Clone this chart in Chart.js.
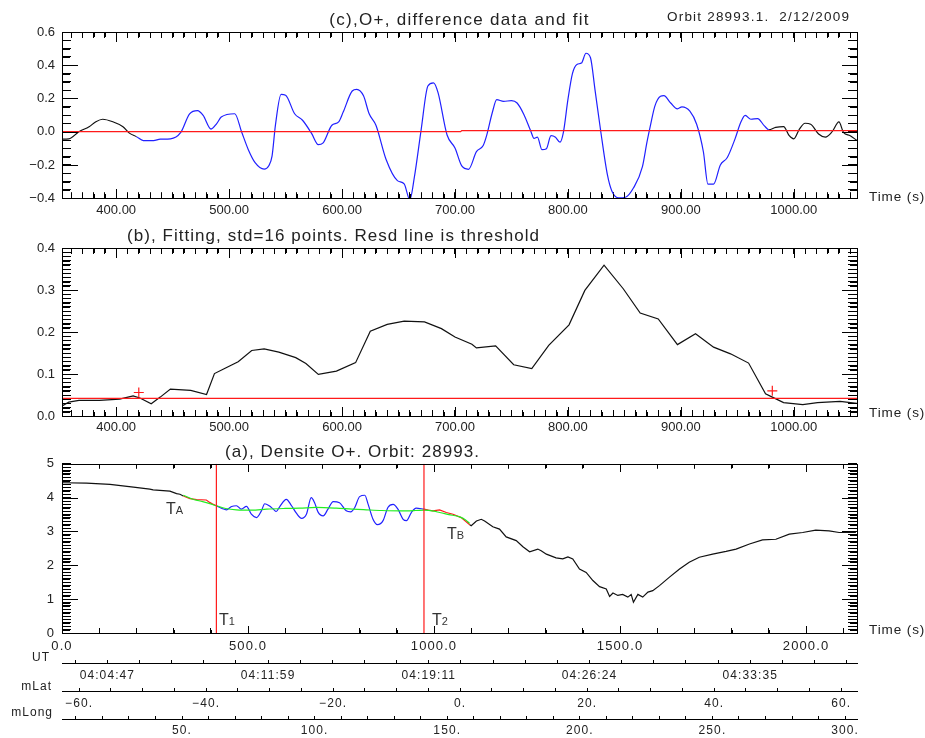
<!DOCTYPE html>
<html>
<head>
<meta charset="utf-8">
<script src="https://cdn.jsdelivr.net/npm/chart.js@4.4.1/dist/chart.umd.min.js"></script>
<style>
  body { margin: 0; background: #fff; width: 925px; height: 738px; position: relative; overflow: hidden;
         font-family: "Liberation Sans", Arial, sans-serif; color: #222; }
  canvas { position: absolute; left: 0; }
  .t { position: absolute; white-space: nowrap; line-height: 1; }
  .title { font-size: 17px; letter-spacing: 1.05px; }
  .small { font-size: 13.5px; letter-spacing: 0.9px; }
  .lab { font-size: 12px; letter-spacing: 1px; text-align: right; }
  .mark { font-size: 16px; color: #333; }
  .mark span { font-size: 11px; }
</style>
</head>
<body>
<canvas id="chartC" width="925" height="222" style="top:0"></canvas>
<canvas id="chartB" width="925" height="218" style="top:222px"></canvas>
<canvas id="chartA" width="925" height="298" style="top:440px"></canvas>

<div class="t title" style="left:0;width:919px;text-align:center;top:11px;letter-spacing:1.3px">(c),O+, difference data and fit</div>
<div class="t small" style="left:667px;top:10px;letter-spacing:1.2px">Orbit 28993.1.&nbsp; 2/12/2009</div>
<div class="t small" style="left:869px;top:190px">Time (s)</div>

<div class="t title" style="left:127px;top:227px">(b), Fitting, std=16 points. Resd line is threshold</div>
<div class="t small" style="left:869px;top:406px">Time (s)</div>

<div class="t title" style="left:225px;top:443px">(a), Densite O+. Orbit: 28993.</div>
<div class="t small" style="left:869px;top:623px">Time (s)</div>

<div class="t mark" style="left:166px;top:501px">T<span>A</span></div>
<div class="t mark" style="left:447px;top:526px">T<span>B</span></div>
<div class="t mark" style="left:219px;top:612px">T<span>1</span></div>
<div class="t mark" style="left:432px;top:612px">T<span>2</span></div>

<div class="t lab" style="right:875px;top:651px">UT</div>
<div class="t lab" style="right:873px;top:680px">mLat</div>
<div class="t lab" style="right:872px;top:706px">mLong</div>

<script>
// (c) difference data and fit
const diffTime = [352, 358, 367, 376, 382, 388, 397, 406, 412, 418, 424, 433, 439, 448, 457, 465, 472, 477, 484, 489,
  493, 505, 511, 517, 523, 531, 535, 538, 541, 546, 550, 558, 565, 573, 579, 583, 591, 597, 601, 609,
  613, 619, 624, 630, 639, 649, 655, 660, 664, 670, 676, 681, 685, 693, 700, 706, 712, 719, 725, 728,
  733, 737, 743, 750, 755, 761, 767, 770, 773, 777, 781, 785, 789, 793, 796, 800, 804, 808, 812, 816,
  820, 824, 829, 835, 839, 845, 851, 858, 866, 870, 873, 877, 882, 885, 891, 897, 901, 908, 914, 920,
  924, 929, 935, 941, 948, 953, 957, 962, 968, 974, 978, 984, 991, 996, 1000, 1005, 1010, 1015, 1022, 1028,
  1034, 1040, 1044, 1050, 1056];
const diffVal = [-0.045, -0.043, 0.0, 0.03, 0.06, 0.075, 0.06, 0.03, -0.01, -0.03, -0.053, -0.053, -0.045, -0.043, -0.006, 0.108, 0.127, 0.098, 0.016, 0.049,
  0.088, 0.108, 0.0, -0.108, -0.186, -0.225, -0.206, -0.147, 0.04, 0.225, 0.22, 0.108, 0.069, -0.01, -0.078, -0.069, 0.039, 0.059, 0.118, 0.245,
  0.255, 0.216, 0.108, 0.039, -0.167, -0.294, -0.314, -0.41, -0.275, 0.01, 0.275, 0.294, 0.235, -0.02, -0.098, -0.206, -0.226, -0.12, -0.083, -0.024,
  0.114, 0.193, 0.183, 0.187, 0.173, 0.104, 0.006, -0.04, -0.033, -0.108, -0.102, -0.024, -0.033, -0.063, -0.004, 0.193, 0.35, 0.405, 0.413, 0.472,
  0.445, 0.252, 0.006, -0.26, -0.358, -0.398, -0.394, -0.339, -0.21, -0.063, 0.035, 0.154, 0.213, 0.217, 0.173, 0.138, 0.15, 0.124, 0.045, -0.122,
  -0.315, -0.315, -0.2, -0.157, -0.043, 0.055, 0.098, 0.075, 0.079, 0.035, 0.012, 0.026, 0.031, -0.024, -0.043, 0.016, 0.051, 0.045, -0.014, -0.033,
  0.0, 0.059, -0.004, -0.024, -0.053];
const diffWindow = [416, 977];
const fitCTime = [352, 705, 706, 1056];
const fitCVal = [0, 0, 0.007, 0.007];

// (b) fitting std
const stdTime = [352, 358, 367, 385, 403, 415, 421, 431, 439, 448, 466, 480, 487, 496, 508, 520, 531, 544, 559, 568,
  579, 595, 612, 625, 640, 655, 673, 688, 700, 715, 719, 736, 752, 768, 783, 801, 815, 832, 849, 864,
  880, 897, 913, 929, 944, 960, 975, 981, 991, 1008, 1021, 1041, 1056];
const stdVal = [0.024, 0.033, 0.037, 0.037, 0.040, 0.048, 0.043, 0.029, 0.045, 0.064, 0.061, 0.051, 0.101, 0.113, 0.129, 0.156, 0.160, 0.152, 0.139, 0.125,
  0.099, 0.107, 0.127, 0.202, 0.218, 0.226, 0.224, 0.208, 0.188, 0.171, 0.162, 0.167, 0.122, 0.113, 0.168, 0.217, 0.299, 0.359, 0.303, 0.245,
  0.231, 0.170, 0.196, 0.164, 0.148, 0.126, 0.053, 0.045, 0.032, 0.027, 0.032, 0.035, 0.030];
const thresholdTime = [352, 1056];
const thresholdVal = [0.042, 0.042];
const crossTime = [420, 981];
const crossVal = [0.056, 0.060];

// (a) density O+
const densTime = [0, 66, 129, 192, 236, 245, 290, 308, 317, 326, 344, 362, 388, 397, 407, 415,
  430, 442, 456, 469, 482, 496, 509, 523, 536, 545, 557, 568, 576, 585, 603, 617, 630, 644, 657, 670,
  679, 688, 702, 715, 729, 746, 764, 776, 787, 800, 814, 823, 836, 848, 863, 876, 890, 903, 917, 926,
  939, 952, 973, 985, 997, 1015, 1033, 1051, 1073, 1096, 1100, 1114, 1127, 1136, 1158, 1176, 1194, 1221,
  1239, 1257, 1279, 1288, 1302, 1328, 1346, 1360, 1373, 1391, 1409, 1427, 1445, 1463, 1472, 1481, 1494, 1507,
  1521, 1530, 1536, 1548, 1561, 1575, 1588, 1606, 1633, 1660, 1686, 1713, 1749, 1785, 1812, 1848, 1883, 1919,
  1955, 1991, 2026, 2062, 2089, 2134];
const densVal = [4.44, 4.43, 4.39, 4.31, 4.25, 4.23, 4.19, 4.12, 4.10, 4.05, 3.97, 3.94, 3.93, 3.86, 3.80, 3.76,
  3.68, 3.64, 3.74, 3.76, 3.66, 3.74, 3.51, 3.41, 3.61, 3.82, 3.76, 3.66, 3.59, 3.73, 3.95, 3.76, 3.54, 3.39, 3.51, 4.00,
  3.85, 3.58, 3.46, 3.66, 3.88, 3.85, 3.61, 3.58, 3.71, 4.03, 4.07, 3.80, 3.36, 3.20, 3.32, 3.71, 3.80, 3.66, 3.36, 3.32,
  3.56, 3.69, 3.66, 3.63, 3.61, 3.64, 3.56, 3.51, 3.41, 3.20, 3.17, 3.31, 3.36, 3.31, 3.14, 3.07, 2.84, 2.73,
  2.55, 2.40, 2.48, 2.43, 2.33, 2.22, 2.19, 2.25, 2.19, 1.89, 1.79, 1.55, 1.37, 1.30, 1.08, 1.18, 1.11, 1.14,
  1.06, 1.14, 0.91, 1.14, 1.06, 1.21, 1.25, 1.40, 1.65, 1.89, 2.09, 2.24, 2.33, 2.41, 2.48, 2.63, 2.75, 2.77,
  2.92, 2.97, 3.04, 3.02, 2.97, 2.97];
const fitATime = [326, 350, 371, 395, 415, 440, 469, 510, 550, 600, 639, 684, 737, 780, 818, 860, 908, 950, 973, 1000, 1015, 1040, 1069, 1085, 1096];
const fitAVal = [4.07, 3.96, 3.90, 3.83, 3.76, 3.68, 3.64, 3.63, 3.66, 3.68, 3.69, 3.71, 3.69, 3.66, 3.64, 3.62, 3.61, 3.62, 3.63, 3.60, 3.56, 3.50, 3.43, 3.34, 3.24];
const TA = 326, T1 = 415, T2 = 973, TB = 1096;

// bottom axes
const utTickSec = [122, 554, 986, 1418, 1850];
const utLabels = ['04:04:47', '04:11:59', '04:19:11', '04:26:24', '04:33:35'];
const mLatRange = [-62.7, 62.5];
const mLongRange = [4.75, 304.5];

const BLUE = '#2020ff', RED = '#ff1a1a', GREEN = '#22ee22', BLACK = '#111';
Chart.defaults.font.family = '"Liberation Sans", Arial, sans-serif';
Chart.defaults.color = '#222';

function pts(xs, ys) { return xs.map((x, i) => ({ x, y: ys[i] })); }
function stepTicks(from, to, step) {
  const n = Math.round((to - from) / step);
  const out = [];
  for (let i = 0; i <= n; i++) out.push({ value: Math.round((from + i * step) * 1e6) / 1e6 });
  return out;
}
function isMult(v, m) { return Math.abs(v / m - Math.round(v / m)) < 1e-6; }
function minus(s) { return s.replace('-', '\u2212'); }
function utTicks(max) {
  const step = (utTickSec[1] - utTickSec[0]) / 5;
  const out = [];
  for (let k = -Math.floor(utTickSec[0] / step); ; k++) {
    const v = (k % 5 === 0 && utTickSec[k / 5] !== undefined) ? utTickSec[k / 5] : utTickSec[0] + k * step;
    if (v > max) break;
    out.push({ value: v });
  }
  return out;
}

// frame round the plot area plus longer inward marks at labelled ticks
function idlAxes(len) {
  return {
    id: 'idlAxes',
    afterDraw(chart) {
      const { ctx, chartArea: a } = chart;
      ctx.save();
      ctx.fillStyle = '#000';
      const l = Math.round(a.left), r = Math.round(a.right), tp = Math.round(a.top), b = Math.round(a.bottom);
      ctx.fillRect(l, tp, r - l + 1, 1);
      ctx.fillRect(l, b, r - l + 1, 1);
      ctx.fillRect(l, tp, 1, b - tp + 1);
      ctx.fillRect(r, tp, 1, b - tp + 1);
      Object.keys(len).forEach(id => {
        const s = chart.scales[id];
        const [maj, min] = len[id];
        s.ticks.forEach(t => {
          const L = t.label ? maj : min;
          const p = Math.round(s.getPixelForValue(t.value));
          if (s.axis === 'x') {
            ctx.fillRect(p, b - L + 1, 1, L);
            ctx.fillRect(p, tp, 1, L);
          } else {
            ctx.fillRect(l, p, L, 1);
            ctx.fillRect(r - L + 1, p, L, 1);
          }
        });
      });
      ctx.restore();
    }
  };
}
const spacing = { id: 'spacing', beforeDraw(chart) { chart.ctx.letterSpacing = '1.1px'; } };

// inward tick marks from the library's own grid: negative tick length
function inward(tl) {
  return { display: true, drawOnChartArea: false, drawTicks: true, tickLength: -tl, tickColor: '#000', tickWidth: 1, lineWidth: 1 };
}
function xAxis(min, max, from, to, step, major, digits, height, pad, size, tl) {
  return {
    type: 'linear', position: 'bottom', min, max,
    afterBuildTicks: s => { s.ticks = stepTicks(from, to, step); },
    afterFit: s => { s.height = height; },
    grid: inward(tl), border: { display: false },
    ticks: { autoSkip: false, maxRotation: 0, padding: pad + tl, color: '#222', font: { size },
             callback: v => isMult(v, major) ? v.toFixed(digits) : '' }
  };
}
function topMirror(min, max, from, to, step, tl) {
  return {
    type: 'linear', position: 'top', min, max,
    afterBuildTicks: s => { s.ticks = stepTicks(from, to, step); },
    afterFit: s => { s.height = 0; },
    grid: inward(tl), border: { display: false },
    ticks: { display: false, autoSkip: false }
  };
}
function yAxis(min, max, step, major, fmt, tl) {
  return {
    position: 'left', min, max,
    afterBuildTicks: s => { s.ticks = stepTicks(min, max, step); },
    afterFit: s => { s.width = 62; },
    grid: inward(tl), border: { display: false },
    ticks: { autoSkip: false, padding: 7 + tl, color: '#222', font: { size: 13 },
             callback: v => isMult(v, major) ? fmt(v) : '' }
  };
}
function rightMirror(min, max, step, tl) {
  return {
    position: 'right', min, max,
    afterBuildTicks: s => { s.ticks = stepTicks(min, max, step); },
    afterFit: s => { s.width = 0; },
    grid: inward(tl), border: { display: false },
    ticks: { display: false, autoSkip: false }
  };
}
function stripAxis(min, max, ticksFn, labelFn, height, pad) {
  return {
    type: 'linear', position: 'bottom', min, max,
    afterBuildTicks: s => { s.ticks = ticksFn(); },
    afterFit: s => { s.height = height; },
    grid: inward(3), border: { display: true, color: '#000', width: 1 },
    ticks: { autoSkip: false, maxRotation: 0, padding: pad + 3, color: '#222', font: { size: 12 }, callback: labelFn }
  };
}
const common = {
  responsive: false, animation: false, events: [],
  plugins: { legend: { display: false }, tooltip: { enabled: false } },
  elements: { point: { radius: 0 }, line: { borderWidth: 1.2 } }
};

new Chart(document.getElementById('chartC'), {
  type: 'line',
  data: { datasets: [
    { data: pts(fitCTime, fitCVal), borderColor: RED, order: 0 },
    { data: pts(diffTime, diffVal), borderColor: BLUE, order: 1, cubicInterpolationMode: 'monotone',
      segment: { borderColor: c => (c.p0.parsed.x >= diffWindow[0] && c.p0.parsed.x < diffWindow[1]) ? BLUE : BLACK } }
  ] },
  options: { ...common,
    layout: { padding: { top: 32, right: 68, bottom: 0, left: 0 } },
    scales: {
      x: xAxis(352, 1056, 360, 1050, 10, 100, 2, 21, 4, 13, 6),
      y: yAxis(-0.4, 0.6, 0.05, 0.2, v => minus(v.toFixed(1)), 9),
      x2: topMirror(352, 1056, 360, 1050, 10, 6),
      y2: rightMirror(-0.4, 0.6, 0.05, 9)
    }
  },
  plugins: [idlAxes({ x: [10, 5], y: [16, 8] })]
});

new Chart(document.getElementById('chartB'), {
  type: 'line',
  data: { datasets: [
    { type: 'scatter', data: pts(crossTime, crossVal), pointStyle: 'cross', pointRadius: 5,
      borderColor: RED, pointBorderWidth: 1.2, showLine: false, order: 0 },
    { data: pts(thresholdTime, thresholdVal), borderColor: RED, order: 1 },
    { data: pts(stdTime, stdVal), borderColor: BLACK, order: 2 }
  ] },
  options: { ...common,
    layout: { padding: { top: 26, right: 68, bottom: 0, left: 0 } },
    scales: {
      x: xAxis(352, 1056, 360, 1050, 10, 100, 2, 24, 4, 13, 6),
      y: yAxis(0, 0.4, 0.01, 0.1, v => v.toFixed(1), 9),
      x2: topMirror(352, 1056, 360, 1050, 10, 6),
      y2: rightMirror(0, 0.4, 0.01, 9)
    }
  },
  plugins: [idlAxes({ x: [10, 5], y: [16, 8] })]
});

// black outside TA..TB, red between TA-T1 and T2-TB; the T1..T2 part is drawn by the smooth blue set
const densColor = c => {
  const x0 = c.p0.parsed.x;
  if (x0 >= T1 && x0 < T2) return 'rgba(0,0,0,0)';
  if (x0 >= TA && x0 < TB) return RED;
  return BLACK;
};
const i1 = densTime.indexOf(T1), i2 = densTime.indexOf(T2);
new Chart(document.getElementById('chartA'), {
  type: 'line',
  data: { datasets: [
    { data: pts([T1, T1], [0, 5]), borderColor: RED, order: 0 },
    { data: pts([T2, T2], [0, 5]), borderColor: RED, order: 0 },
    { data: pts(fitATime, fitAVal), borderColor: GREEN, order: 1, cubicInterpolationMode: 'monotone' },
    { data: pts(densTime.slice(i1, i2 + 1), densVal.slice(i1, i2 + 1)), borderColor: BLUE, order: 2, cubicInterpolationMode: 'monotone' },
    { data: pts(densTime, densVal), borderColor: BLACK, order: 3, segment: { borderColor: densColor } }
  ] },
  options: { ...common,
    layout: { padding: { top: 23, right: 68, bottom: 0, left: 0 } },
    scales: {
      x: xAxis(0, 2137, 0, 2100, 100, 500, 1, 30, 6, 13, 5),
      ut: stripAxis(0, 2137, () => utTicks(2137), v => { const i = utTickSec.indexOf(v); return i < 0 ? '' : utLabels[i]; }, 28, 5),
      mlat: stripAxis(mLatRange[0], mLatRange[1], () => stepTicks(-60, 60, 5), v => isMult(v, 20) ? minus(v + '.') : '', 28, 5),
      mlong: stripAxis(mLongRange[0], mLongRange[1], () => stepTicks(10, 300, 10), v => isMult(v, 50) ? v + '.' : '', 19, 4),
      y: yAxis(0, 5, 0.1, 1, v => v.toFixed(0), 9),
      x2: topMirror(0, 2137, 0, 2100, 100, 5),
      y2: rightMirror(0, 5, 0.1, 9)
    }
  },
  plugins: [idlAxes({ x: [8, 4], y: [16, 8] }), spacing]
});
</script>
</body>
</html>
